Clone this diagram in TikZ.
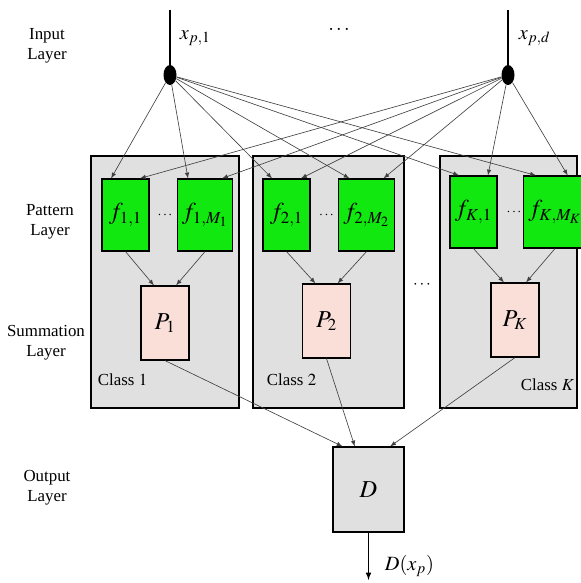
\documentclass[tikz,border=0pt]{standalone}
\usepackage{mathptmx}
\usepackage{fontspec}
\setmainfont{Liberation Serif}
\usetikzlibrary{shapes.geometric, calc}
\definecolor{classgray}{RGB}{224,224,224}
\definecolor{patgreen}{RGB}{16,232,16}
\definecolor{sumpink}{RGB}{250,222,216}
\begin{document}
\begin{tikzpicture}[x=0.025cm, y=-0.025cm,
	classbox/.style={shape=rectangle, draw, line width=0.8pt, fill=classgray, minimum height=6.3cm},
	patbox/.style={shape=rectangle, draw, line width=0.8pt, fill=patgreen, minimum width=1.175cm, minimum height=1.8cm, font=\LARGE},
	sumbox/.style={shape=rectangle, draw, line width=0.8pt, fill=sumpink, minimum width=1.2cm, minimum height=1.85cm, font=\LARGE},
	dot/.style={shape=ellipse, fill=black, inner sep=0pt, minimum width=0.325cm, minimum height=0.5cm},
	wire/.style={line width=0.45pt, draw=black!75, -latex},
	layertext/.style={align=center, font=\large, inner sep=0pt}]
	\useasboundingbox (0,0) rectangle (580,583);
	% class boxes
	\node[classbox, minimum width=3.7cm] (class1) at (165, 282){};
	\node[classbox, minimum width=3.775cm] (class2) at (328.5, 282){};
	\node[classbox, minimum width=3.425cm] (classK) at (508.5, 282){};
	% pattern layer
	\node[patbox] (f11) at (125.5, 215){$f_{1,1}$};
	\node[patbox] (f1M1) at (205, 215){$f_{1,M_1}$};
	\node[patbox] (f21) at (286.5, 215){$f_{2,1}$};
	\node[patbox] (f2M2) at (366.5, 215){$f_{2,M_2}$};
	\node[patbox] (fK1) at (473.5, 212){$f_{K,1}$};
	\node[patbox] (fKMK) at (555, 212){$f_{K,M_K}$};
	\node (dots1) at (165, 215){$\cdots$};
	\node (dots2) at (326.5, 215){$\cdots$};
	\node (dotsK) at (514, 212){$\cdots$};
	% summation layer
	\node[sumbox] (P1) at (165, 323){$P_1$};
	\node[sumbox] (P2) at (326.5, 321){$P_2$};
	\node[sumbox] (PK) at (515, 320){$P_K$};
	\node[anchor=west, font=\large] (cl1) at (93, 380){Class~$1$};
	\node[anchor=west, font=\large] (cl2) at (262, 380){Class~$2$};
	\node[anchor=west, font=\large] (clK) at (516, 385){Class~$K$};
	\node[font=\large] (dotsC) at (422, 285){$\cdots$};
	% output layer
	\node[shape=rectangle, draw, line width=0.8pt, fill=classgray, minimum width=1.775cm, minimum height=2.125cm, font=\LARGE] (D) at (368.5, 489.5){$D$};
	\coordinate (out) at (368.5, 580);
	\draw[line width=0.8pt, -latex] (D) -- (out);
	\node[anchor=west, font=\Large] (Dx) at (380, 566){$D(x_p)$};
	% input layer
	\node[dot] (in1) at (170, 75){};
	\node[dot] (ind) at (508, 75){};
	\coordinate (top1) at (170, 10);
	\coordinate (topd) at (508, 10);
	\draw[line width=1pt] (top1) -- (in1);
	\draw[line width=1pt] (topd) -- (ind);
	\node[anchor=west, font=\Large] (x1) at (175, 38){$x_{p,1}$};
	\node[anchor=west, font=\Large] (xd) at (514, 38){$x_{p,d}$};
	\node[font=\Large] (dotsI) at (339, 30){$\cdots$};
	% layer names
	\node[layertext] (lin) at (47, 46){Input\\Layer};
	\node[layertext] (lpat) at (50, 222){Pattern\\Layer};
	\node[layertext] (lsum) at (46, 343){Summation\\Layer};
	\node[layertext] (lout) at (47, 488){Output\\Layer};
	% input to pattern
	\draw[wire] (in1) -- ($(f11.north)!0.6!(f11.north west)$);
	\draw[wire] (in1) -- ($(f1M1.north)!0.6!(f1M1.north west)$);
	\draw[wire] (in1) -- ($(f21.north)!0.6!(f21.north west)$);
	\draw[wire] (in1) -- ($(f2M2.north)!0.6!(f2M2.north west)$);
	\draw[wire] (in1) -- ($(fK1.north)!0.6!(fK1.north west)$);
	\draw[wire] (in1) -- ($(fKMK.north)!0.6!(fKMK.north west)$);
	\draw[wire] (ind) -- ($(f11.north)!0.6!(f11.north east)$);
	\draw[wire] (ind) -- ($(f1M1.north)!0.6!(f1M1.north east)$);
	\draw[wire] (ind) -- ($(f21.north)!0.6!(f21.north east)$);
	\draw[wire] (ind) -- ($(f2M2.north)!0.6!(f2M2.north east)$);
	\draw[wire] (ind) -- ($(fK1.north)!0.6!(fK1.north east)$);
	\draw[wire] (ind) -- ($(fKMK.north)!0.4!(fKMK.north east)$);
	% pattern to summation
	\draw[wire] (f11.south) -- ($(P1.north)!0.45!(P1.north west)$);
	\draw[wire] (f1M1.south) -- ($(P1.north)!0.45!(P1.north east)$);
	\draw[wire] (f21.south) -- ($(P2.north)!0.45!(P2.north west)$);
	\draw[wire] (f2M2.south) -- ($(P2.north)!0.45!(P2.north east)$);
	\draw[wire] (fK1.south) -- ($(PK.north)!0.45!(PK.north west)$);
	\draw[wire] (fKMK.south) -- ($(PK.north)!0.45!(PK.north east)$);
	% summation to output
	\draw[wire] (P1.south) -- ($(D.north)!0.72!(D.north west)$);
	\draw[wire] (P2.south) -- ($(D.north)!0.38!(D.north west)$);
	\draw[wire] (PK.south) -- ($(D.north)!0.6!(D.north east)$);
\end{tikzpicture}
\end{document}
